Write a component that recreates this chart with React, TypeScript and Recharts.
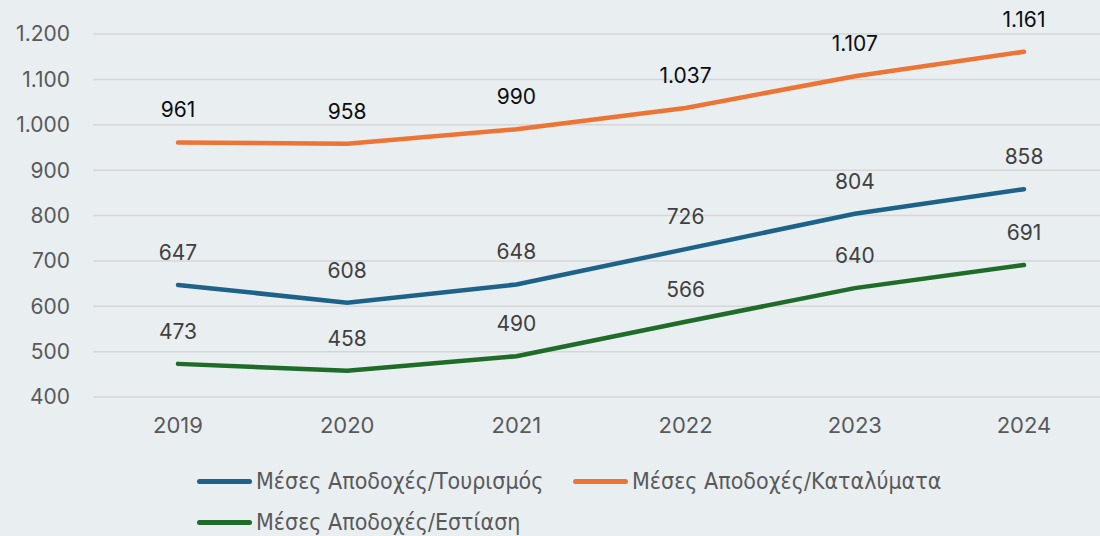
import React from "react";
import { LineChart, Line, XAxis, YAxis, CartesianGrid, LabelList } from "recharts";

const years = ["2019", "2020", "2021", "2022", "2023", "2024"];
const tourism = [647, 608, 648, 726, 804, 858];
const lodging = [961, 958, 990, 1037, 1107, 1161];
const catering = [473, 458, 490, 566, 640, 691];
const yTicks = [400, 500, 600, 700, 800, 900, 1000, 1100, 1200];

const SERIES = [
  { key: "tourism", name: "Μέσες Αποδοχές/Τουρισμός", color: "#1d6288", labelColor: "#404040" },
  { key: "lodging", name: "Μέσες Αποδοχές/Καταλύματα", color: "#ec7434", labelColor: "#0d0d0d" },
  { key: "catering", name: "Μέσες Αποδοχές/Εστίαση", color: "#1f6b29", labelColor: "#404040" },
];

const data = years.map((y, i) => ({
  year: y,
  tourism: tourism[i],
  lodging: lodging[i],
  catering: catering[i],
}));

const FONT = "Inter, 'Open Sans', sans-serif";

function fmt(n: number) {
  return String(n).replace(/\B(?=(\d{3})+(?!\d))/g, ".");
}

function LegendBox() {
  const item = (s: typeof SERIES[number], left: number, cy: number) => (
    <div
      key={s.key}
      style={{
        position: "absolute",
        left,
        top: cy - 13,
        height: 26,
        display: "flex",
        alignItems: "center",
      }}
    >
      <div style={{ width: 55, height: 5, borderRadius: 3, background: s.color, marginRight: 4 }} />
      <span
        style={{
          fontFamily: "'Liberation Sans Narrow', 'DejaVu Sans Condensed', sans-serif",
          fontSize: 23,
          lineHeight: "26px",
          color: "#595959",
          whiteSpace: "nowrap",
        }}
      >
        {s.name}
      </span>
    </div>
  );
  return (
    <div style={{ position: "absolute", left: 0, top: 0, width: 1100, height: 536, pointerEvents: "none" }}>
      {item(SERIES[0], 197, 481)}
      {item(SERIES[1], 573, 481)}
      {item(SERIES[2], 197, 522)}
    </div>
  );
}

export default function App() {
  return (
    <div
      style={{
        position: "fixed",
        left: 0,
        top: 0,
        width: 1100,
        height: 536,
        overflow: "hidden",
        background: "#e9eef1",
      }}
    >
      <LineChart
        width={1120}
        height={536}
        data={data}
        margin={{ top: 34, right: 0, bottom: 89, left: 0 }}
      >
        <CartesianGrid stroke="#d6d6d6" strokeWidth={1.5} vertical={false} />
        <XAxis
          dataKey="year"
          scale="point"
          axisLine={false}
          tickLine={false}
          padding={{ left: 85, right: 96 }}
          tick={{ fontSize: 22, fill: "#595959", fontFamily: FONT }}
          tickSize={0}
          tickMargin={20}
          height={50}
        />
        <YAxis
          domain={[400, 1200]}
          ticks={yTicks}
          interval={0}
          axisLine={false}
          tickLine={false}
          tickFormatter={fmt}
          tick={{ fontSize: 21, fill: "#595959", fontFamily: FONT }}
          width={93}
          tickSize={0}
          tickMargin={23}
        />
        {SERIES.map((s) => (
          <Line
            key={s.key}
            type="linear"
            dataKey={s.key}
            name={s.name}
            stroke={s.color}
            strokeWidth={4.5}
            strokeLinecap="round"
            dot={false}
            activeDot={false}
            isAnimationActive={false}
          >
            <LabelList
              dataKey={s.key}
              position="top"
              offset={25}
              formatter={(v: number) => fmt(v)}
              style={{ fontSize: 21, fill: s.labelColor, fontFamily: FONT }}
            />
          </Line>
        ))}
      </LineChart>
      <LegendBox />
    </div>
  );
}
